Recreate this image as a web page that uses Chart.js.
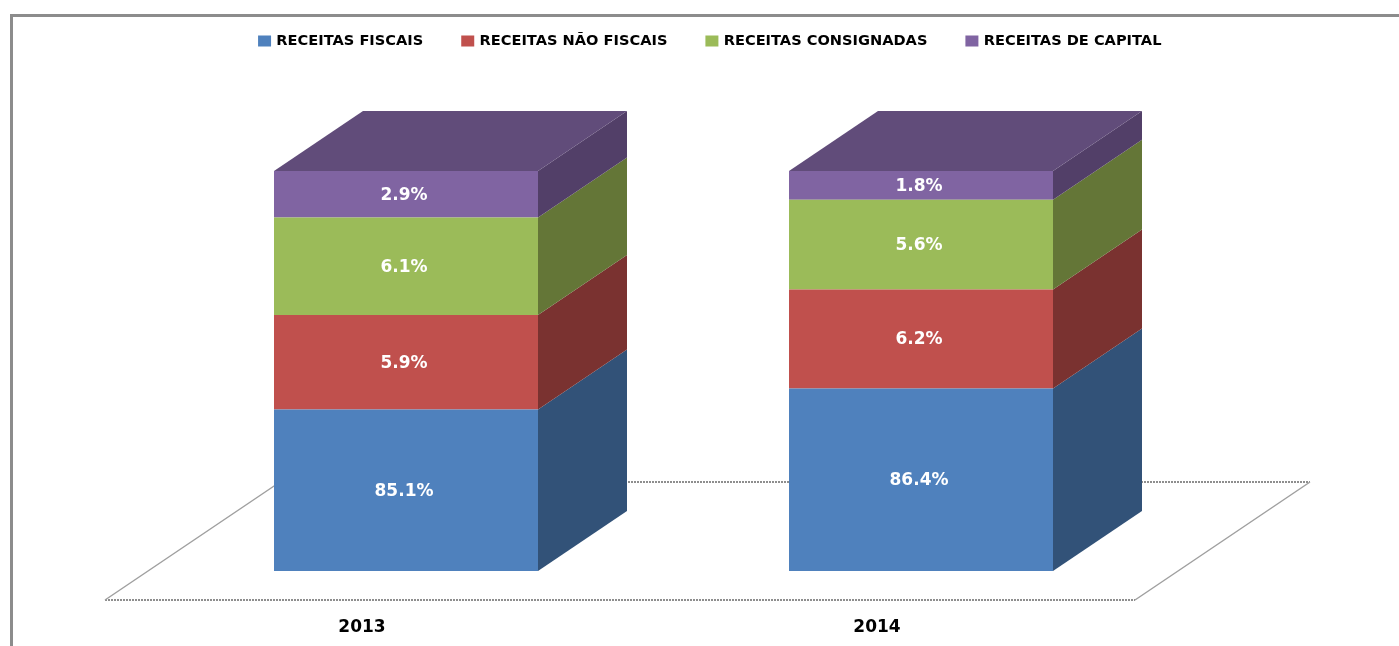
<!DOCTYPE html>
<html><head><meta charset="utf-8">
<script src="https://cdn.jsdelivr.net/npm/chart.js@4"></script>
<style>html,body{margin:0;padding:0;background:#fff;overflow:hidden}canvas{display:block}</style>
</head><body><canvas id="c" width="1399" height="646"></canvas>
<script>
const categories = ["2013", "2014"];
const receitasFiscais = [85.1, 86.4];
const receitasNaoFiscais = [5.9, 6.2];
const receitasConsignadas = [6.1, 5.6];
const receitasDeCapital = [2.9, 1.8];
const seriesNames = ["RECEITAS FISCAIS", "RECEITAS NÃO FISCAIS", "RECEITAS CONSIGNADAS", "RECEITAS DE CAPITAL"];
const axisMin = 75, axisMax = 100;
const frontColors = ["#4f81bd", "#c0504d", "#9bbb59", "#8064a2"];
const sideColors = ["#325278", "#7a3230", "#647637", "#523f68"];
const topColor = "#614c7a";
const depthX = 89, depthY = 60;
const labelFont = "bold 17px 'DejaVu Sans'";

const mkDs = (i, d, extra) => Object.assign({label: seriesNames[i], data: d, backgroundColor: frontColors[i], borderWidth: 0}, extra || {});

const chart3d = {
  id: "chart3d",
  afterLayout(chart) { chart.legend.top = -6.3; },
  beforeDraw(chart) {
    const c = chart.ctx;
    c.save();
    c.fillStyle = "#fff"; c.fillRect(0, 0, chart.width, chart.height);
    c.fillStyle = "#8c8c8c";
    c.fillRect(10, 14, chart.width - 10, 3);
    c.fillRect(10, 14, 3, chart.height - 14);
    c.restore();
  },
  beforeDatasetsDraw(chart) {
    const c = chart.ctx, a = chart.chartArea, step = a.width / categories.length;
    const l = a.left - 43.5, r = l + step * categories.length, f = a.bottom + 29, dx = 175, dy = 118;
    c.save();
    c.strokeStyle = "#8e8e8e"; c.lineWidth = 2;
    c.setLineDash([2, 1]);
    c.beginPath(); c.moveTo(l, f); c.lineTo(r, f); c.moveTo(l + dx, f - dy); c.lineTo(r + dx, f - dy); c.stroke();
    c.setLineDash([]); c.lineWidth = 1.5; c.strokeStyle = "#a0a0a0";
    c.beginPath(); c.moveTo(l, f); c.lineTo(l + dx, f - dy); c.moveTo(r, f); c.lineTo(r + dx, f - dy); c.stroke();
    c.restore();
  },
  afterDatasetsDraw(chart) {
    const c = chart.ctx;
    c.save();
    chart.data.datasets.forEach((ds, i) => {
      chart.getDatasetMeta(i).data.forEach(b => {
        const R = b.x + b.width / 2, L = b.x - b.width / 2;
        c.fillStyle = sideColors[i];
        c.beginPath(); c.moveTo(R, b.y); c.lineTo(R + depthX, b.y - depthY); c.lineTo(R + depthX, b.base - depthY); c.lineTo(R, b.base); c.closePath(); c.fill();
        if (i === chart.data.datasets.length - 1) {
          c.fillStyle = topColor;
          c.beginPath(); c.moveTo(L, b.y); c.lineTo(L + depthX, b.y - depthY); c.lineTo(R + depthX, b.y - depthY); c.lineTo(R, b.y); c.closePath(); c.fill();
        }
      });
    });
    c.font = labelFont; c.fillStyle = "#fff"; c.textAlign = "center"; c.textBaseline = "middle";
    chart.data.datasets.forEach((ds, i) => {
      chart.getDatasetMeta(i).data.forEach((b, j) => {
        c.fillText(ds.data[j].toFixed(1) + "%", b.x - 2, (b.y + b.base) / 2 + 1);
      });
    });
    c.restore();
  }
};

new Chart(document.getElementById("c"), {
  type: "bar",
  data: {
    labels: categories,
    datasets: [
      mkDs(0, receitasFiscais, {base: axisMin}),
      mkDs(1, receitasNaoFiscais),
      mkDs(2, receitasConsignadas),
      mkDs(3, receitasDeCapital)
    ]
  },
  options: {
    responsive: false,
    animation: false,
    events: [],
    categoryPercentage: 1,
    barPercentage: 264 / 515,
    layout: {padding: {left: 22.5, right: 0, top: 106.4, bottom: 0}},
    plugins: {
      tooltip: {enabled: false},
      legend: {
        display: true, position: "top",
        labels: {
          font: {family: "'DejaVu Sans'", size: 14.6, weight: "bold"}, color: "#000",
          boxWidth: 9, boxHeight: 7, padding: 40,
          generateLabels(chart) {
            return Chart.defaults.plugins.legend.labels.generateLabels(chart).map(it =>
              Object.assign(it, {lineWidth: 4, strokeStyle: it.fillStyle, lineJoin: "miter"}));
          }
        }
      }
    },
    scales: {
      x: {
        stacked: true,
        grid: {display: false}, border: {display: false},
        ticks: {color: "#000", font: {family: "'DejaVu Sans'", size: 17, weight: "bold"}, padding: 38, labelOffset: -44, maxRotation: 0, autoSkip: false},
        afterFit(s) { s.height = 75; }
      },
      y: {
        stacked: true, min: axisMin, max: axisMax,
        grid: {display: false}, border: {display: false}, ticks: {display: false},
        afterFit(s) { s.width = 126; }
      },
      y2: {
        position: "right", min: axisMin, max: axisMax,
        grid: {display: false}, border: {display: false}, ticks: {display: false},
        afterFit(s) { s.width = 220.5; }
      }
    }
  },
  plugins: [chart3d]
});
</script></body></html>
